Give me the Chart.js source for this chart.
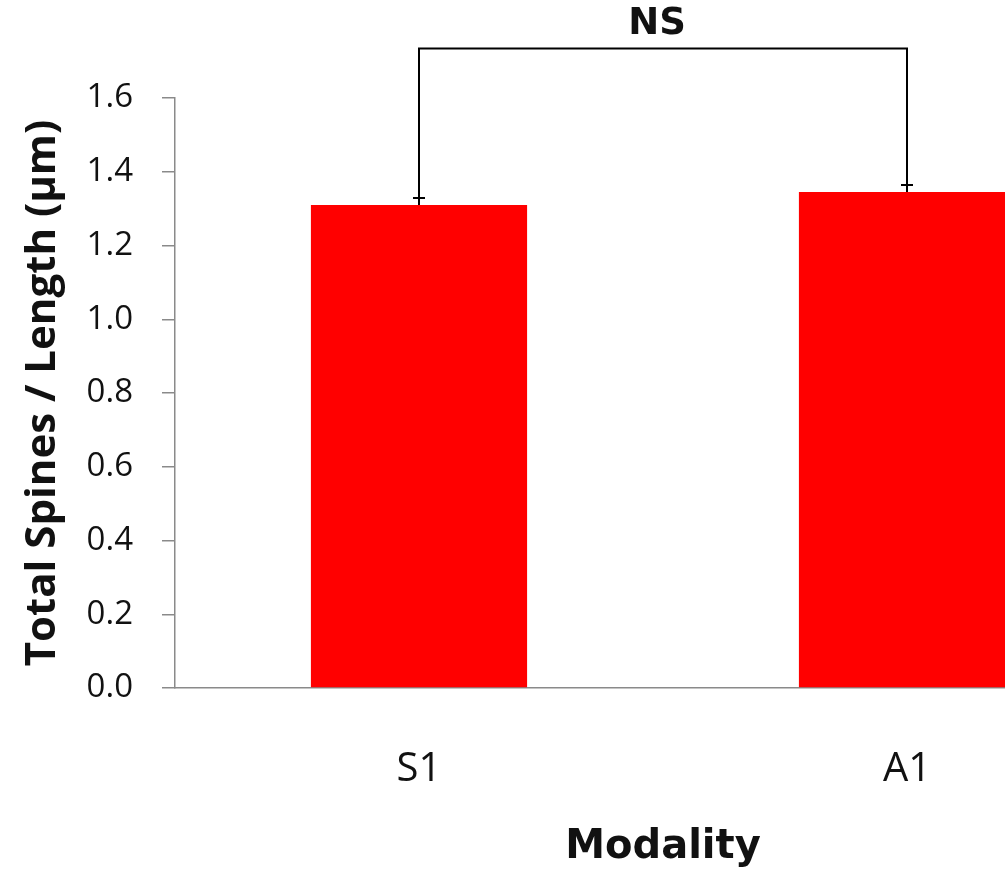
<!DOCTYPE html>
<html>
<head>
<meta charset="utf-8">
<title>Total Spines / Length</title>
<script src="https://cdn.jsdelivr.net/npm/chart.js@4/dist/chart.umd.min.js"></script>
<style>
  html, body { margin: 0; padding: 0; background: #fff; overflow: hidden; }
  #wrap { width: 1005px; height: 875px; overflow: hidden; }
</style>
</head>
<body>
<div id="wrap">
  <canvas id="myChart" width="1151" height="875"></canvas>
</div>
<script>
// Data
const categories = ['S1', 'A1'];
const spineDensity = [1.31, 1.345];
const spineError = [0.019, 0.019];
const yTicks = [0.0, 0.2, 0.4, 0.6, 0.8, 1.0, 1.2, 1.4, 1.6];
const sigLevel = 1.734;
const sigLabel = 'NS';

// error bars + significance bracket
const annotations = {
  id: 'annotations',
  afterDatasetsDraw(chart) {
    const ctx = chart.ctx;
    const x = chart.scales.x;
    const y = chart.scales.y;
    const yTop = y.getPixelForValue(sigLevel);
    ctx.save();
    ctx.strokeStyle = '#000';
    ctx.lineWidth = 2;
    for (let i = 0; i < categories.length; i++) {
      const px = x.getPixelForValue(i);
      const pBar = y.getPixelForValue(spineDensity[i]);
      const pErr = y.getPixelForValue(spineDensity[i] + spineError[i]);
      ctx.beginPath();
      ctx.moveTo(px, pBar);
      ctx.lineTo(px, pErr);
      ctx.moveTo(px - 6, pErr);
      ctx.lineTo(px + 6, pErr);
      // bracket leg
      ctx.moveTo(px, pErr);
      ctx.lineTo(px, yTop);
      ctx.stroke();
    }
    const x0 = x.getPixelForValue(0);
    const x1 = x.getPixelForValue(categories.length - 1);
    ctx.beginPath();
    ctx.moveTo(x0 - 1, yTop);
    ctx.lineTo(x1 + 1, yTop);
    ctx.stroke();

    ctx.fillStyle = '#111';
    ctx.font = 'bold 37px "DejaVu Sans"';
    ctx.textAlign = 'center';
    ctx.textBaseline = 'middle';
    ctx.fillText(sigLabel, (x0 + x1) / 2 - 6, yTop - 24);
    ctx.restore();
  },
};

// Config block
const config = {
  type: 'bar',
  data: {
    labels: categories,
    datasets: [
      {
        data: spineDensity,
        backgroundColor: '#ff0000',
        borderWidth: 0,
        categoryPercentage: 1,
        barPercentage: 0.443,
      },
    ],
  },
  options: {
    responsive: false,
    animation: false,
    events: [],
    layout: { padding: { top: 98, right: 0, bottom: 0, left: 0 } },
    plugins: {
      legend: { display: false },
      tooltip: { enabled: false },
    },
    scales: {
      x: {
        afterFit(scale) { scale.height = 187; },
        grid: { display: false, drawTicks: false },
        border: { display: true, color: '#8a8a8a', width: 1.5 },
        ticks: {
          padding: 58,
          color: '#111',
          font: { family: '"Open Sans"', size: 40 },
        },
        title: {
          display: true,
          text: 'Modality',
          color: '#111',
          font: { family: '"DejaVu Sans"', size: 40, weight: 'bold' },
          padding: { top: 0, bottom: 3 },
        },
      },
      y: {
        min: 0,
        max: 1.6,
        afterFit(scale) { scale.width = 175; },
        afterBuildTicks(scale) { scale.ticks = yTicks.map((v) => ({ value: v })); },
        grid: { drawOnChartArea: false, tickLength: 13, color: '#8a8a8a', lineWidth: 1.5 },
        border: { display: true, color: '#8a8a8a', width: 1.5 },
        ticks: {
          padding: 29,
          color: '#111',
          font: { family: '"Open Sans"', size: 33 },
          callback: (v) => Number(v).toFixed(1),
        },
        title: {
          display: true,
          text: 'Total Spines / Length (µm)',
          color: '#111',
          font: { family: '"Open Sans"', size: 42, weight: 'bold' },
          padding: { top: 18, bottom: 0 },
        },
      },
    },
  },
  plugins: [annotations],
};

// init / render block
const myChart = new Chart(document.getElementById('myChart'), config);
</script>
</body>
</html>
